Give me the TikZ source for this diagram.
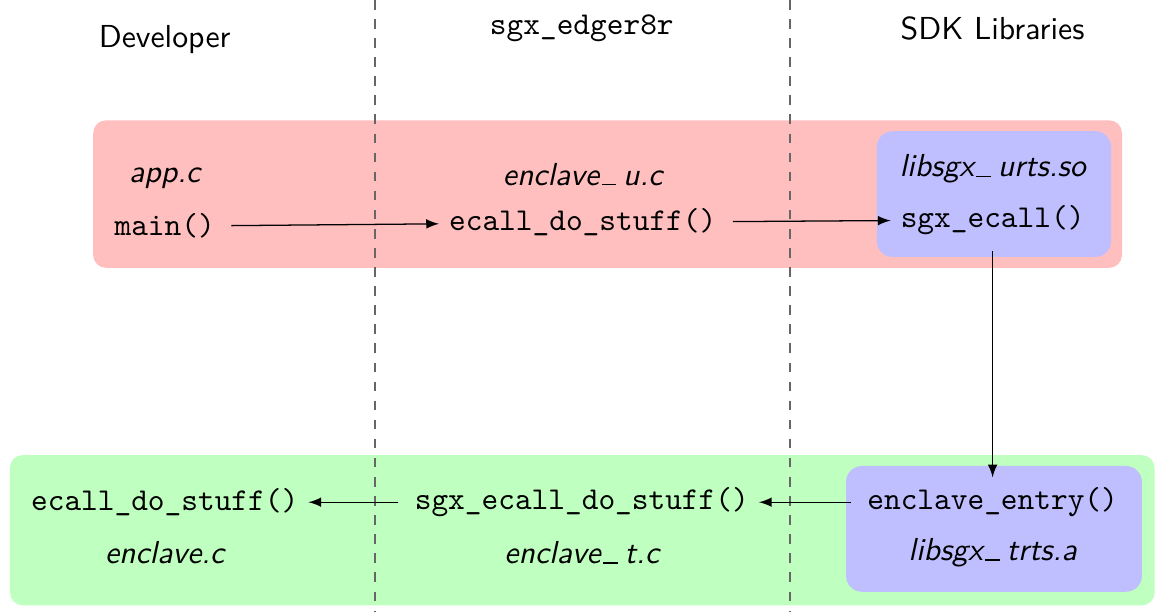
\documentclass[tikz,border=0pt]{standalone}
\usepackage{tikz}

\newcommand{\usc}{\leavevmode\kern.08em\vbox{\hrule width.45em}\kern.22em}

\begin{document}
\begin{tikzpicture}[font=\sffamily,
  code/.style={font=\ttfamily, inner sep=3pt},
  file/.style={font=\sffamily\itshape, inner sep=3pt},
  call/.style={-latex, shorten <=2pt}]
\useasboundingbox (0,0) rectangle (12.82,-6.76);
\fill[red!25, rounded corners=4pt] (1.03,-1.33) rectangle (12.40,-2.96);
\fill[blue!25, rounded corners=5pt] (9.69,-1.45) rectangle (12.28,-2.84);
\fill[green!25, rounded corners=4pt] (0.11,-5.03) rectangle (12.76,-6.69);
\fill[blue!25, rounded corners=5pt] (9.35,-5.15) rectangle (12.62,-6.54);
\draw[dashed, color=black!60, line width=0.6pt] (4.14,0) -- (4.14,-6.76);
\draw[dashed, color=black!60, line width=0.6pt] (8.73,0) -- (8.73,-6.76);
\node (dev) at (1.82,-0.44) {Developer};
\node[font=\ttfamily] (edger) at (6.43,-0.31) {sgx\_edger8r};
\node (sdk) at (10.97,-0.31) {SDK Libraries};
\node[file] (appc) at (1.82,-1.97) {app.c};
\node[code] (main) at (1.82,-2.50) {main()};
\node[file] (enclu) at (6.44,-1.93) {enclave\usc u.c};
\node[code] (ustuff) at (6.44,-2.46) {ecall\_do\_stuff()};
\node[file] (urts) at (10.97,-1.87) {libsgx\usc urts.so};
\node[code] (secall) at (10.97,-2.43) {sgx\_ecall()};
\node[code] (tstuff) at (1.82,-5.55) {ecall\_do\_stuff()};
\node[file] (enclc) at (1.82,-6.11) {enclave.c};
\node[code] (sgxstuff) at (6.43,-5.55) {sgx\_ecall\_do\_stuff()};
\node[file] (enclt) at (6.43,-6.11) {enclave\usc t.c};
\node[code] (entry) at (10.97,-5.55) {enclave\_entry()};
\node[file] (trts) at (10.97,-6.11) {libsgx\usc trts.a};
\draw[call] (main) -- (ustuff);
\draw[call] (ustuff) -- (secall);
\draw[call] (secall) -- (entry);
\draw[call] (entry) -- (sgxstuff);
\draw[call] (sgxstuff) -- (tstuff);
\end{tikzpicture}
\end{document}
